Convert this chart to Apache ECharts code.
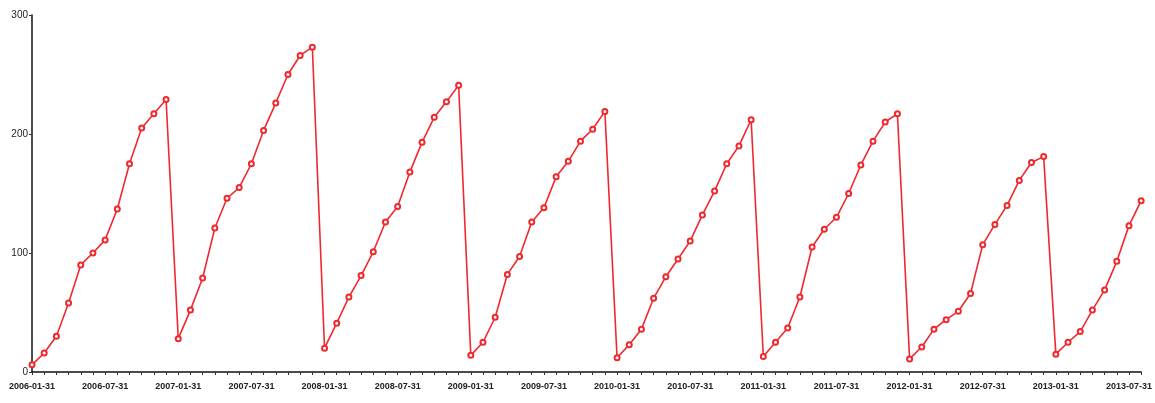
<!DOCTYPE html>
<html>
<head>
<meta charset="utf-8">
<script src="https://cdn.jsdelivr.net/npm/echarts@6/dist/echarts.min.js"></script>
<style>
html,body{margin:0;padding:0;background:#fff;}
#chart{width:1155px;height:403px;}
</style>
</head>
<body>
<div id="chart"></div>
<script>
const categories = [
  '2006-01-31','2006-02-28','2006-03-31','2006-04-30','2006-05-31','2006-06-30','2006-07-31','2006-08-31','2006-09-30','2006-10-31','2006-11-30','2006-12-31',
  '2007-01-31','2007-02-28','2007-03-31','2007-04-30','2007-05-31','2007-06-30','2007-07-31','2007-08-31','2007-09-30','2007-10-31','2007-11-30','2007-12-31',
  '2008-01-31','2008-02-29','2008-03-31','2008-04-30','2008-05-31','2008-06-30','2008-07-31','2008-08-31','2008-09-30','2008-10-31','2008-11-30','2008-12-31',
  '2009-01-31','2009-02-28','2009-03-31','2009-04-30','2009-05-31','2009-06-30','2009-07-31','2009-08-31','2009-09-30','2009-10-31','2009-11-30','2009-12-31',
  '2010-01-31','2010-02-28','2010-03-31','2010-04-30','2010-05-31','2010-06-30','2010-07-31','2010-08-31','2010-09-30','2010-10-31','2010-11-30','2010-12-31',
  '2011-01-31','2011-02-28','2011-03-31','2011-04-30','2011-05-31','2011-06-30','2011-07-31','2011-08-31','2011-09-30','2011-10-31','2011-11-30','2011-12-31',
  '2012-01-31','2012-02-29','2012-03-31','2012-04-30','2012-05-31','2012-06-30','2012-07-31','2012-08-31','2012-09-30','2012-10-31','2012-11-30','2012-12-31',
  '2013-01-31','2013-02-28','2013-03-31','2013-04-30','2013-05-31','2013-06-30','2013-07-31','2013-08-31'
];
const values2006 = [6, 16, 30, 58, 90, 100, 111, 137, 175, 205, 217, 229];
const values2007 = [28, 52, 79, 121, 146, 155, 175, 203, 226, 250, 266, 273];
const values2008 = [20, 41, 63, 81, 101, 126, 139, 168, 193, 214, 227, 241];
const values2009 = [14, 25, 46, 82, 97, 126, 138, 164, 177, 194, 204, 219];
const values2010 = [12, 23, 36, 62, 80, 95, 110, 132, 152, 175, 190, 212];
const values2011 = [13, 25, 37, 63, 105, 120, 130, 150, 174, 194, 210, 217];
const values2012 = [11, 21, 36, 44, 51, 66, 107, 124, 140, 161, 176, 181];
const values2013 = [15, 25, 34, 52, 69, 93, 123, 144];
const yTicks = [0, 100, 200, 300];

const seriesValues = [].concat(values2006, values2007, values2008, values2009,
  values2010, values2011, values2012, values2013);

const chart = echarts.init(document.getElementById('chart'), null, {renderer: 'canvas'});
chart.setOption({
  backgroundColor: '#ffffff',
  animation: false,
  grid: {left: 32, right: 12, top: 15, bottom: 31},
  xAxis: {
    type: 'category',
    data: categories,
    boundaryGap: false,
    axisLine: {lineStyle: {color: '#111', width: 1.5}},
    axisTick: {show: true, interval: 0, length: 3, lineStyle: {color: '#333'}},
    axisLabel: {
      interval: 5,
      color: '#222',
      fontSize: 9,
      fontWeight: 'bold',
      fontFamily: 'Liberation Sans, Arial, sans-serif',
      margin: 10
    },
    splitLine: {show: false}
  },
  yAxis: {
    type: 'value',
    min: yTicks[0],
    max: yTicks[yTicks.length - 1],
    interval: 100,
    axisLine: {show: true, lineStyle: {color: '#111', width: 1.5}},
    axisTick: {show: true, length: 3, lineStyle: {color: '#333'}},
    axisLabel: {
      color: '#222',
      fontSize: 10,
      fontFamily: 'Liberation Sans, Arial, sans-serif',
      margin: 4
    },
    splitLine: {show: false}
  },
  series: [{
    type: 'line',
    data: seriesValues,
    symbol: 'emptyCircle',
    symbolSize: 5,
    showAllSymbol: true,
    lineStyle: {color: '#f0282e', width: 1.6},
    itemStyle: {color: '#f0282e', borderColor: '#f0282e', borderWidth: 1.1}
  }]
});
</script>
</body>
</html>
